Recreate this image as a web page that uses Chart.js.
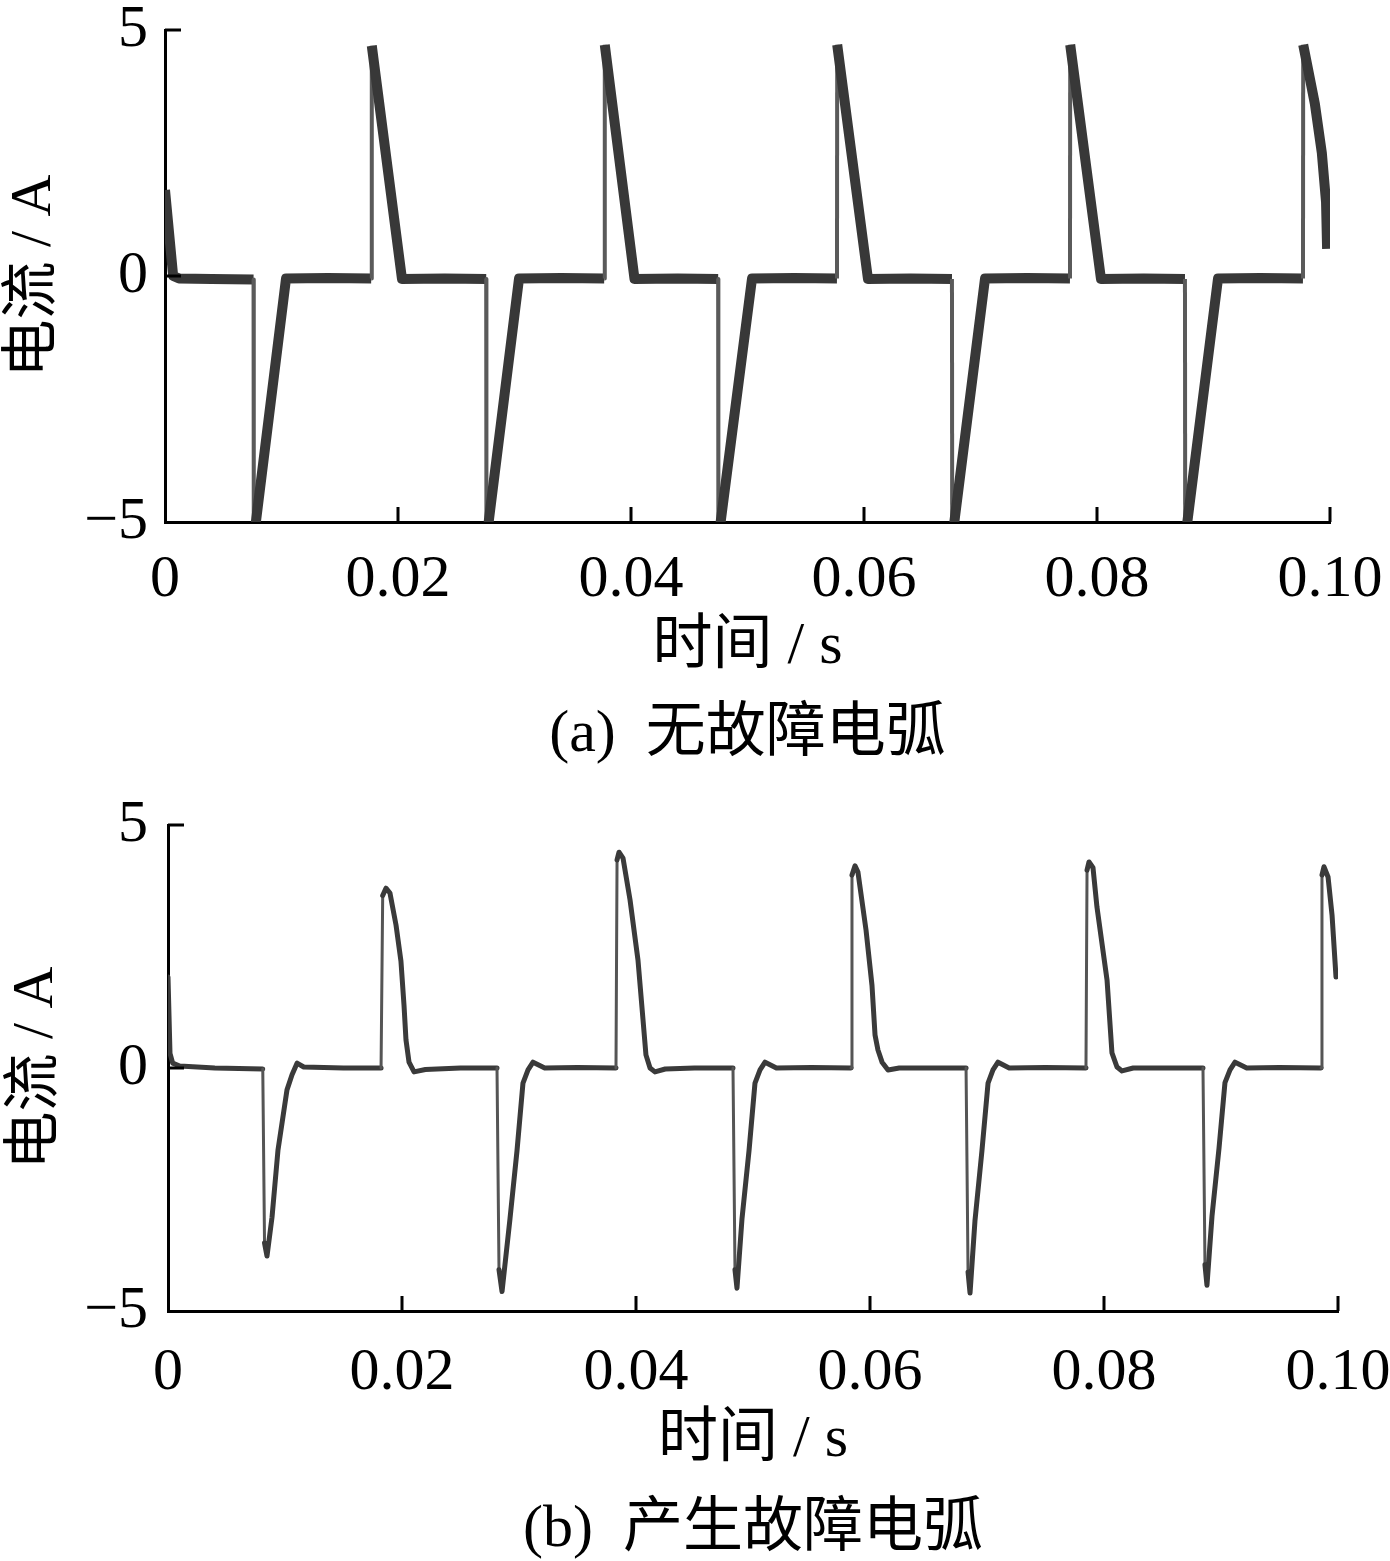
<!DOCTYPE html>
<html>
<head>
<meta charset="utf-8">
<script src="https://cdn.jsdelivr.net/npm/chart.js@4.4.1/dist/chart.umd.min.js"></script>
<style>
html, body { margin: 0; padding: 0; background: #fff; overflow: hidden; width: 1390px; height: 1561px; }
.box { position: absolute; left: 0; }
#boxA { top: 0; width: 1390px; height: 770px; }
#boxB { top: 790px; width: 1400px; height: 771px; }
</style>
</head>
<body>
<div class="box" id="boxA"><canvas id="chartA"></canvas></div>
<div class="box" id="boxB"><canvas id="chartB"></canvas></div>
<script>
// (a) no fault arc - time (s) / current (A)
const timeA = [
  0, 0.0007, 0.0012, 0.0040, 0.0076, 0.00762, 0.00775, 0.01039, 0.0140, 0.0177, 0.01775, 0.02034,
  0.0240, 0.02757, 0.02759, 0.02773, 0.03039, 0.0340, 0.0377, 0.03775, 0.0403,
  0.0440, 0.04748, 0.0475, 0.04764, 0.05039, 0.0540, 0.05768, 0.0577, 0.06034,
  0.0640, 0.06755, 0.06757, 0.0677, 0.07039, 0.0740, 0.07768, 0.0777, 0.08034,
  0.0840, 0.08755, 0.08757, 0.0877, 0.09039, 0.0940, 0.09768, 0.0977, 0.0987, 0.0993, 0.09966, 0.09975
];
const currentA = [
  1.75, 0, -0.05, -0.06, -0.07, -5.1, -5.1, -0.05, -0.04, -0.05, 4.68, -0.06,
  -0.05, -0.06, -5.1, -5.1, -0.05, -0.04, -0.05, 4.7, -0.06,
  -0.05, -0.06, -5.1, -5.1, -0.05, -0.04, -0.05, 4.7, -0.06,
  -0.05, -0.06, -5.1, -5.1, -0.05, -0.04, -0.05, 4.7, -0.06,
  -0.05, -0.06, -5.1, -5.1, -0.05, -0.04, -0.05, 4.7, 3.5, 2.5, 1.5, 0.55
];

// (b) fault arc
const timeB = [
  0, 0.00017, 0.0004, 0.0010, 0.0040,
  0.0081, 0.00825, 0.00846, 0.00889, 0.0094, 0.01017, 0.0106, 0.01103, 0.0116, 0.0150,
  0.01821, 0.01835, 0.01863, 0.01897, 0.01949, 0.01991, 0.02017, 0.02034, 0.0206, 0.02103, 0.0220, 0.0250,
  0.02812, 0.02829, 0.02855, 0.02923, 0.02983, 0.03034, 0.03077, 0.0312, 0.0322, 0.0350,
  0.03829, 0.03838, 0.03855, 0.03889, 0.03949, 0.04017, 0.0406, 0.04085, 0.0412, 0.04162, 0.0425, 0.0450,
  0.04829, 0.04846, 0.04863, 0.04906, 0.04966, 0.05017, 0.0506, 0.05103, 0.0520, 0.0550,
  0.05838, 0.05846, 0.05872, 0.05897, 0.05966, 0.06017, 0.06043, 0.06068, 0.06103, 0.06154, 0.0625, 0.0650,
  0.06821, 0.06838, 0.06855, 0.06897, 0.06957, 0.07009, 0.07051, 0.07094, 0.0719, 0.0750,
  0.07846, 0.07855, 0.07872, 0.07906, 0.0794, 0.08026, 0.08068, 0.08111, 0.08154, 0.0825, 0.0850,
  0.08846, 0.08863, 0.0888, 0.08923, 0.08983, 0.09034, 0.09077, 0.0912, 0.0922, 0.0950,
  0.09855, 0.09863, 0.0988, 0.09915, 0.09949, 0.09983
];
const currentB = [
  1.87, 0.3, 0.1, 0.04, 0.0,
  -0.02, -3.6, -3.87, -3.07, -1.69, -0.45, -0.14, 0.1, 0.02, 0.0,
  0.0, 3.55, 3.7, 3.6, 2.94, 2.2, 1.3, 0.58, 0.12, -0.08, -0.03, 0.0,
  0.0, -4.15, -4.6, -3.1, -1.7, -0.31, -0.04, 0.12, 0.0, 0.01,
  0.0, 4.28, 4.44, 4.32, 3.46, 2.22, 0.99, 0.27, 0.0, -0.08, -0.02, 0.0,
  0.0, -4.15, -4.53, -3.1, -1.7, -0.31, -0.04, 0.12, 0.0, 0.01,
  0.0, 3.97, 4.16, 4.03, 2.84, 1.7, 0.68, 0.37, 0.12, -0.04, 0.0, 0.0,
  0.0, -4.2, -4.63, -3.15, -1.7, -0.31, -0.04, 0.12, 0.0, 0.01,
  0.0, 4.07, 4.24, 4.12, 3.31, 1.81, 0.31, 0.02, -0.06, 0.0, 0.0,
  0.0, -4.05, -4.47, -3.05, -1.65, -0.3, -0.04, 0.12, 0.0, 0.01,
  0.0, 3.97, 4.14, 3.93, 3.15, 1.87
];

const xTicks = [0, 0.02, 0.04, 0.06, 0.08, 0.10];
const yTicks = [-5, 0, 5];

const serif = "'Liberation Serif', 'Times New Roman', 'Noto Sans CJK SC', serif";

function zip(ts, vs){
  return ts.map((t, i) => ({ x: t, y: vs[i] }));
}

// steep jumps are the thin ringing edges of the trace
function isEdge(c){
  return Math.abs(c.p1.x - c.p0.x) < 4 && Math.abs(c.p1.y - c.p0.y) > 100;
}

// ticks point inward, like the original plot
const inwardTicks = {
  id: 'inwardTicks',
  afterDraw(chart){
    const { ctx, chartArea: a, scales: { x, y } } = chart;
    ctx.save();
    ctx.strokeStyle = '#000';
    ctx.lineWidth = 3;
    ctx.beginPath();
    xTicks.forEach(v => {
      if (v === 0) return;
      const px = x.getPixelForValue(v);
      ctx.moveTo(px, a.bottom);
      ctx.lineTo(px, a.bottom - 15);
    });
    yTicks.forEach(v => {
      if (v === -5) return;
      const py = y.getPixelForValue(v);
      ctx.moveTo(a.left, py);
      ctx.lineTo(a.left + 16, py);
    });
    ctx.stroke();
    ctx.restore();
  }
};

function buildChart(id, pts, lay){
  return new Chart(document.getElementById(id), {
    type: 'scatter',
    data: {
      datasets: [{
        data: pts,
        showLine: true,
        pointRadius: 0,
        tension: 0,
        clip: 0,
        borderColor: lay.color,
        borderWidth: lay.width,
        borderCapStyle: lay.cap,
        borderJoinStyle: 'round',
        segment: {
          borderWidth: c => isEdge(c) ? lay.edgeWidth : lay.width,
          borderColor: c => isEdge(c) ? lay.edgeColor : lay.color
        }
      }]
    },
    options: {
      animation: false,
      responsive: true,
      maintainAspectRatio: false,
      layout: { padding: { top: lay.top, right: lay.right, bottom: lay.bottom, left: 0 } },
      plugins: {
        legend: { display: false },
        tooltip: { enabled: false },
        title: {
          display: true, text: lay.caption, position: 'bottom', fullSize: false,
          color: '#000', padding: 0,
          font: { family: serif, size: 60, lineHeight: 1, weight: 'normal' }
        }
      },
      scales: {
        x: {
          type: 'linear', min: 0, max: 0.1,
          afterFit: s => { s.height = lay.xh; s.paddingLeft = 0; s.paddingRight = 0; },
          afterBuildTicks: s => { s.ticks = xTicks.map(v => ({ value: v })); },
          ticks: {
            autoSkip: false, maxRotation: 0, color: '#000', padding: lay.xpad,
            font: { family: serif, size: 60 },
            callback: v => v === 0 ? '0' : v.toFixed(2)
          },
          grid: { display: false, drawTicks: false },
          border: { display: true, color: '#000', width: 3 },
          title: {
            display: true, text: '时间 / s', color: '#000',
            font: { family: serif, size: 60 }, padding: { top: 0, bottom: lay.xtpad }
          }
        },
        y: {
          min: -5, max: 5,
          afterFit: s => { s.width = lay.left; s.paddingTop = 0; s.paddingBottom = 0; },
          afterBuildTicks: s => { s.ticks = yTicks.map(v => ({ value: v })); },
          ticks: {
            color: '#000', padding: lay.ypad,
            font: { family: serif, size: 60, lineHeight: 1 },
            callback: v => v < 0 ? '\u2212' + Math.abs(v) : String(v)
          },
          grid: { display: false, drawTicks: false },
          border: { display: true, color: '#000', width: 3 },
          title: {
            display: true, text: '电流 / A', color: '#000',
            font: { family: serif, size: 58 }, padding: { top: lay.ytpad, bottom: 0 }
          }
        }
      }
    },
    plugins: [inwardTicks]
  });
}

buildChart('chartA', zip(timeA, currentA), {
  caption: '(a)  无故障电弧',
  top: 30, right: 60, bottom: 5, left: 165,
  xh: 183, xpad: 22, xtpad: 22, ypad: 17, ytpad: 0,
  color: '#383838', width: 10, edgeColor: '#5a5a5a', edgeWidth: 4, cap: 'butt'
});

buildChart('chartB', zip(timeB, currentB), {
  caption: '(b)  产生故障电弧',
  top: 35, right: 62, bottom: 1, left: 168,
  xh: 189, xpad: 26, xtpad: 24, ypad: 20, ytpad: 2,
  color: '#3a3a3a', width: 5, edgeColor: '#555', edgeWidth: 3, cap: 'round'
});
</script>
</body>
</html>
